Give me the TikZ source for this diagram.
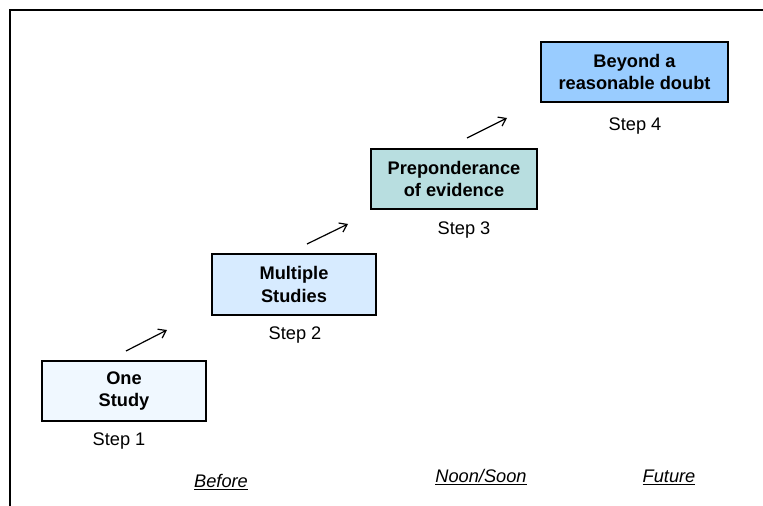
\documentclass[tikz,border=0pt]{standalone}
\usepackage{fontspec}
\setmainfont{Liberation Sans}
\usetikzlibrary{arrows.meta}
\definecolor{stepA}{HTML}{F0F8FF}
\definecolor{stepB}{HTML}{D7EBFF}
\definecolor{stepC}{HTML}{B8DEE0}
\definecolor{stepD}{HTML}{99CCFF}
\begin{document}
\begin{tikzpicture}[x=1bp,y=-1bp,
  stagebox/.style={draw=black,line width=1.3bp,minimum width=164bp,minimum height=60bp,
    inner sep=0pt,align=center,font=\fontsize{18.3}{22.5}\selectfont\bfseries},
  steplabel/.style={inner sep=0pt,font=\fontsize{18.3}{22}\selectfont},
  timelabel/.style={inner sep=0pt,font=\fontsize{18.3}{22}\selectfont\itshape},
  advance/.style={line width=1.2bp,-{Straight Barb[length=7bp,width=10bp,line width=1.2bp]}}]
  \useasboundingbox (0,0) rectangle (763,506);
  % open frame: top and left sides only
  \draw[line width=1.5bp] (763,10) -- (10,10) -- (10,506);

  % the four stages
  \node[stagebox,fill=stepA,minimum width=164bp] (s1) at (124,391) {One\\Study};
  \node[stagebox,fill=stepB,minimum width=164bp,minimum height=61bp] (s2) at (294,284.5) {Multiple\\Studies};
  \node[stagebox,fill=stepC,minimum width=166bp] (s3) at (454,179) {Preponderance\\of evidence};
  \node[stagebox,fill=stepD,minimum width=187bp] (s4) at (634.5,72) {Beyond a\\reasonable doubt};

  \node[steplabel] (l1) at (119,441) {Step 1};
  \node[steplabel] (l2) at (295,335) {Step 2};
  \node[steplabel] (l3) at (464,230) {Step 3};
  \node[steplabel] (l4) at (635,126) {Step 4};

  % arrows between the stages
  \coordinate (a1s) at (126,351); \coordinate (a1e) at (167,330);
  \coordinate (a2s) at (307,244); \coordinate (a2e) at (348,224);
  \coordinate (a3s) at (467,138); \coordinate (a3e) at (507,118);
  \draw[advance] (a1s) -- (a1e);
  \draw[advance] (a2s) -- (a2e);
  \draw[advance] (a3s) -- (a3e);

  % time line labels
  \node[timelabel] (t1) at (221,482) {\underline{Before}};
  \node[timelabel] (t2) at (481,477) {\underline{Noon/Soon}};
  \node[timelabel] (t3) at (669,477) {\underline{Future}};
\end{tikzpicture}
\end{document}
